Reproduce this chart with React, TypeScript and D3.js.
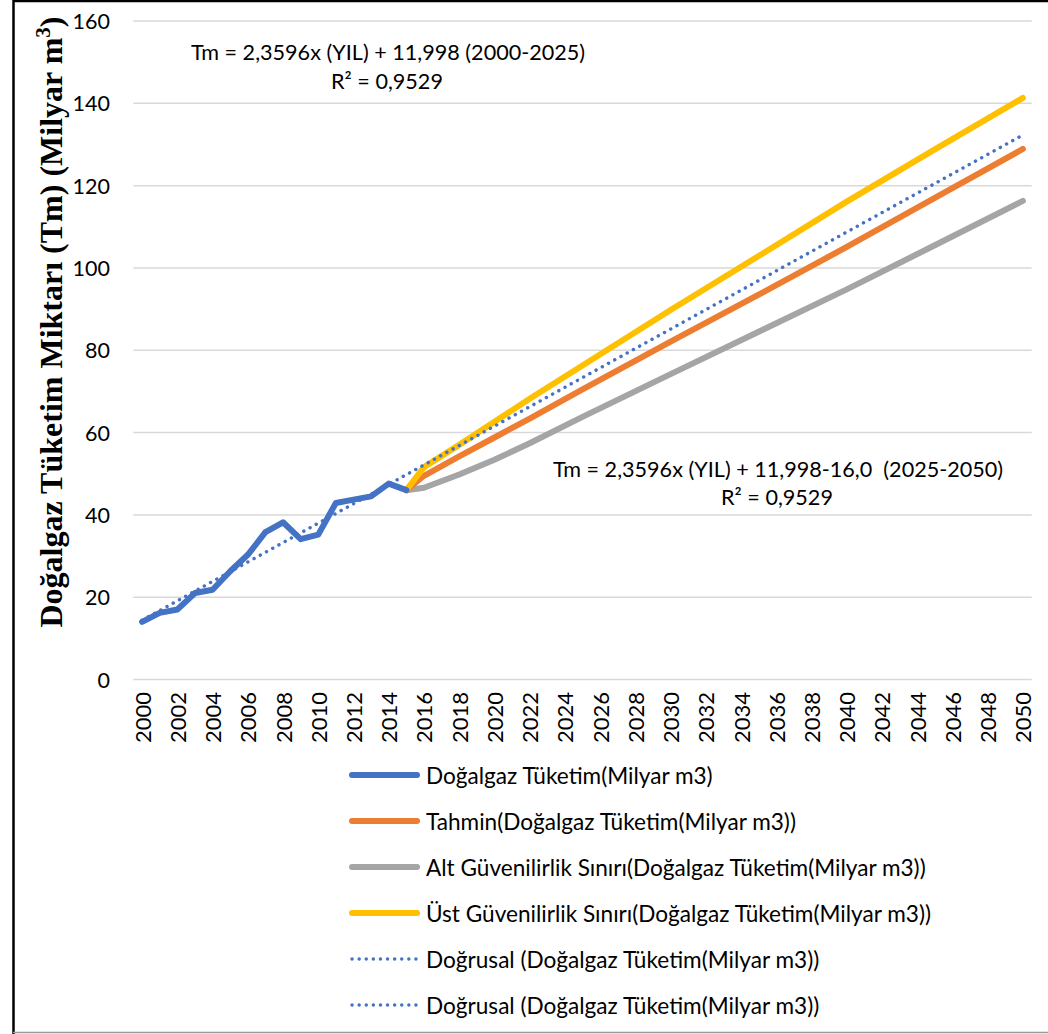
import React from "react";
import * as d3 from "d3";

const years: number[] = Array.from({ length: 51 }, (_, i) => 2000 + i);
const tickYears: number[] = years.filter((y) => (y - 2000) % 2 === 0);
const yTicks: number[] = [0, 20, 40, 60, 80, 100, 120, 140, 160];

const actualYears: number[] = [2000, 2001, 2002, 2003, 2004, 2005, 2006, 2007, 2008, 2009, 2010, 2011, 2012, 2013, 2014, 2015];
const actualValues: number[] = [14.0, 16.2, 17.0, 21.0, 21.8, 26.3, 30.3, 35.8, 38.2, 34.1, 35.2, 42.9, 43.7, 44.5, 47.6, 46.0];

const forecastYears: number[] = [2015, 2016, 2018, 2020, 2022, 2025, 2030, 2035, 2040, 2045, 2050];
const forecastValues: number[] = [46.0, 49.5, 54.2, 58.8, 63.4, 70.5, 82.1, 93.5, 105.1, 117.0, 128.9];
const lowerValues: number[] = [46.0, 46.6, 49.8, 53.4, 57.4, 63.8, 74.2, 84.5, 94.8, 105.5, 116.3];
const upperValues: number[] = [46.0, 51.6, 57.0, 62.6, 68.2, 76.3, 89.8, 102.9, 116.1, 128.8, 141.3];

const trendYears: number[] = [2000, 2050];
const trendValues: number[] = [14.4, 132.3];

const legendLabels: string[] = [
  "Doğalgaz Tüketim(Milyar m3)",
  "Tahmin(Doğalgaz Tüketim(Milyar m3))",
  "Alt Güvenilirlik Sınırı(Doğalgaz Tüketim(Milyar m3))",
  "Üst Güvenilirlik Sınırı(Doğalgaz Tüketim(Milyar m3))",
  "Doğrusal (Doğalgaz Tüketim(Milyar m3))",
  "Doğrusal (Doğalgaz Tüketim(Milyar m3))",
];

const BLUE = "#4472C4";
const ORANGE = "#ED7D31";
const GRAY = "#A5A5A5";
const YELLOW = "#FFC000";
const legendColors: string[] = [BLUE, ORANGE, GRAY, YELLOW, BLUE, BLUE];
const legendDotted: boolean[] = [false, false, false, false, true, true];

const W = 1048;
const H = 1034;
const FONT = "Lato, 'Open Sans', sans-serif";

export default function App() {
  const x = d3
    .scaleBand<number>()
    .domain(years)
    .range([133.3, 1031.7]);
  const cx = (yr: number) => (x(yr) as number) + x.bandwidth() / 2;
  const y = d3.scaleLinear().domain([0, 160]).range([679.5, 21]);

  const line = d3
    .line<[number, number]>()
    .x((d) => cx(d[0]))
    .y((d) => y(d[1]));

  const zip = (a: number[], b: number[]) => a.map((v, i) => [v, b[i]] as [number, number]);

  const actualPath = line(zip(actualYears, actualValues)) || "";
  const forecastPath = line(zip(forecastYears, forecastValues)) || "";
  const lowerPath = line(zip(forecastYears, lowerValues)) || "";
  const upperPath = line(zip(forecastYears, upperValues)) || "";
  const trendPath = line(zip(trendYears, trendValues)) || "";

  const solid = { fill: "none", strokeWidth: 6, strokeLinecap: "round" as const, strokeLinejoin: "round" as const };

  return (
    <svg
      width={W}
      height={H}
      viewBox={`0 0 ${W} ${H}`}
      style={{ position: "absolute", left: 0, top: 0, background: "#fff" }}
    >
      <rect x={0} y={0} width={W} height={H} fill="#fff" />
      {/* frame */}
      <line x1={13.5} x2={13.5} y1={0} y2={H} stroke="#000" strokeWidth={2.5} />
      <line x1={13} x2={W} y1={1} y2={1} stroke="#000" strokeWidth={2.5} />
      <line x1={13} x2={W} y1={1032.5} y2={1032.5} stroke="#999" strokeWidth={1.5} />

      {/* gridlines */}
      {yTicks.map((t) => (
        <line key={"g" + t} x1={133.3} x2={1031.7} y1={y(t)} y2={y(t)} stroke="#D9D9D9" strokeWidth={1.5} />
      ))}
      {/* y tick labels */}
      {yTicks.map((t) => (
        <text
          key={"yt" + t}
          x={110}
          y={y(t)}
          textAnchor="end"
          dominantBaseline="central"
          fontFamily={FONT}
          fontSize={21.5}
          fill="#000"
        >
          {t}
        </text>
      ))}
      {/* x tick labels */}
      {tickYears.map((yr) => (
        <text
          key={"xt" + yr}
          transform={`translate(${cx(yr)},692) rotate(-90)`}
          textAnchor="end"
          dominantBaseline="central"
          fontFamily={FONT}
          fontSize={22}
          fill="#000"
        >
          {yr}
        </text>
      ))}

      {/* y axis title */}
      <text
        transform={`translate(62,322) rotate(-90)`}
        textAnchor="middle"
        fontFamily="'Liberation Serif', 'Times New Roman', serif"
        fontWeight="bold"
        fontSize={32}
        fill="#000"
      >
        Doğalgaz Tüketim Miktarı (Tm) (Milyar m
        <tspan baselineShift="super" fontSize={21}>3</tspan>
        <tspan>)</tspan>
      </text>

      {/* series */}
      <path d={lowerPath} stroke={GRAY} {...solid} />
      <path d={forecastPath} stroke={ORANGE} {...solid} />
      <path d={upperPath} stroke={YELLOW} {...solid} />
      <path d={actualPath} stroke={BLUE} {...solid} />
      <path
        d={trendPath}
        stroke={BLUE}
        fill="none"
        strokeWidth={3.4}
        strokeLinecap="round"
        strokeDasharray="0.1 7"
      />

      {/* annotations */}
      <g fontFamily={FONT} fontSize={21.6} fill="#000" textAnchor="middle">
        <text x={388} y={60}>Tm = 2,3596x (YIL) + 11,998 (2000-2025)</text>
        <text x={387} y={89}>R² = 0,9529</text>
        <text x={778} y={477} xmlSpace="preserve">{"Tm = 2,3596x (YIL) + 11,998-16,0  (2025-2050)"}</text>
        <text x={777} y={505}>R² = 0,9529</text>
      </g>

      {/* legend */}
      {legendLabels.map((lab, i) => {
        const ly = 775 + i * 46;
        return (
          <g key={"lg" + i}>
            {legendDotted[i] ? (
              <line
                x1={352}
                x2={418}
                y1={ly}
                y2={ly}
                stroke={legendColors[i]}
                strokeWidth={3.4}
                strokeLinecap="round"
                strokeDasharray="0.1 7"
              />
            ) : (
              <line
                x1={352}
                x2={417}
                y1={ly}
                y2={ly}
                stroke={legendColors[i]}
                strokeWidth={6}
                strokeLinecap="round"
              />
            )}
            <text
              x={426}
              y={ly}
              dominantBaseline="central"
              fontFamily={FONT}
              fontSize={22.6}
              fill="#000"
            >
              {lab}
            </text>
          </g>
        );
      })}
    </svg>
  );
}
